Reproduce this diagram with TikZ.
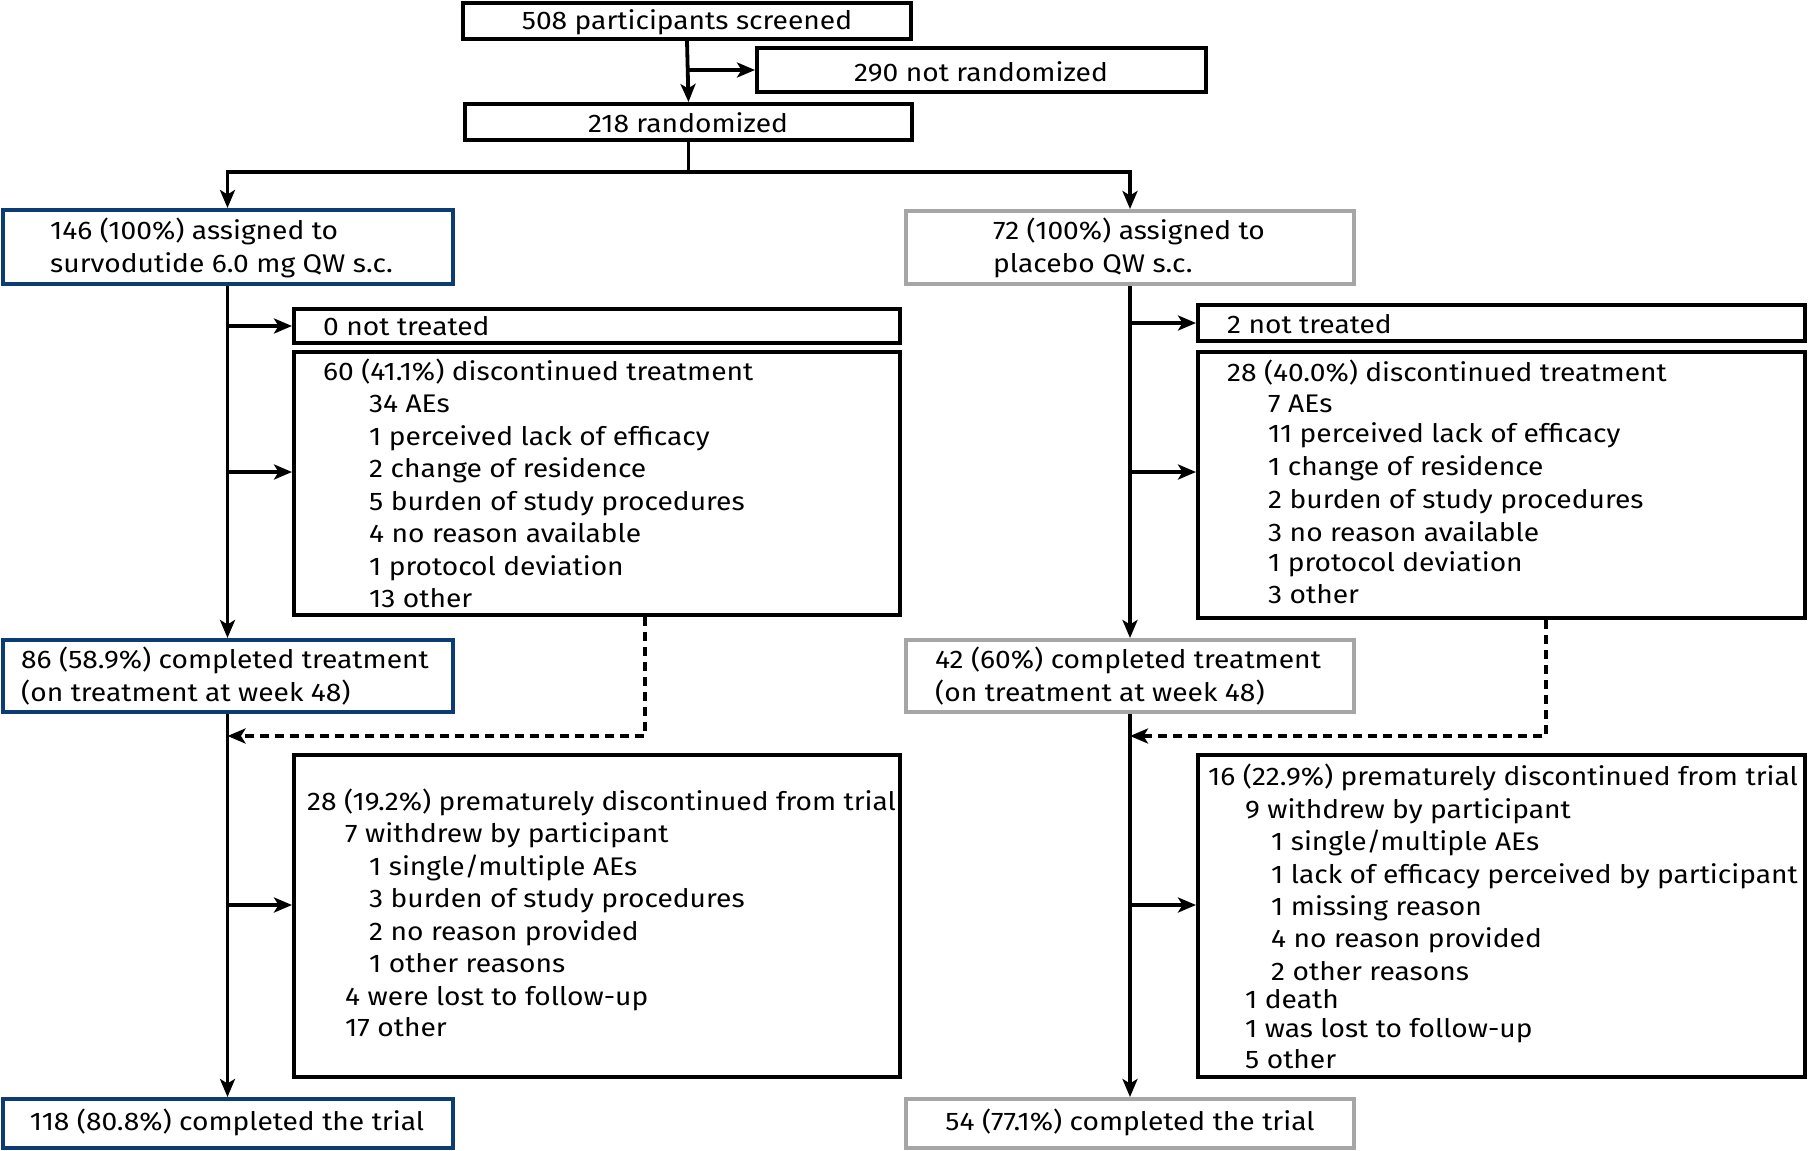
\documentclass[tikz,border=0pt]{standalone}
\usepackage{fontspec}
\setmainfont[FakeStretch=1.105]{Fira Sans}
\usetikzlibrary{arrows.meta}
\definecolor{navy}{HTML}{0B3C73}
\definecolor{greyb}{HTML}{A6A6A6}
\tikzset{
  box/.style={draw=black, line width=4pt, rectangle, inner sep=0pt},
  bluebox/.style={box, draw=navy},
  greybox/.style={box, draw=greyb},
  txt/.style={inner sep=0pt, font=\fontsize{25.5}{32.4}\selectfont, anchor=base west},
  ctxt/.style={txt, anchor=base},
  conn/.style={line width=3.8pt, -{Stealth[length=18pt,width=15pt,inset=4.5pt]}},
  plain/.style={line width=3.8pt},
  dconn/.style={conn, dash pattern=on 9pt off 6pt},
}
\begin{document}
\begin{tikzpicture}[x=1pt,y=-1pt]
\useasboundingbox (0,0) rectangle (1808,1151);
% boxes
\node[box, minimum width=448pt, minimum height=36pt] (scr) at (687,21) {};
\node[box, minimum width=449pt, minimum height=44pt] (notr) at (981.5,70) {};
\node[box, minimum width=447pt, minimum height=36pt] (rand) at (688.5,122) {};
\node[bluebox, minimum width=450pt, minimum height=74pt] (LA) at (227.5,247) {};
\node[greybox, minimum width=448pt, minimum height=73pt] (RA) at (1130,247.5) {};
\node[box, minimum width=606pt, minimum height=34pt] (LNT) at (597,326) {};
\node[box, minimum width=606pt, minimum height=263pt] (LDC) at (597,483.5) {};
\node[box, minimum width=607pt, minimum height=36pt] (RNT) at (1501.5,323) {};
\node[box, minimum width=607pt, minimum height=266pt] (RDC) at (1501.5,485) {};
\node[bluebox, minimum width=450pt, minimum height=72pt] (LCT) at (227.5,676) {};
\node[greybox, minimum width=448pt, minimum height=72pt] (RCT) at (1130,676) {};
\node[box, minimum width=606pt, minimum height=322pt] (LPD) at (597,916) {};
\node[box, minimum width=607pt, minimum height=322pt] (RPD) at (1501.5,916) {};
\node[bluebox, minimum width=450pt, minimum height=49pt] (LCP) at (227.5,1123.5) {};
\node[greybox, minimum width=448pt, minimum height=49pt] (RCP) at (1130,1123.5) {};

% texts
\node[ctxt] (tscr) at (687,29) {508 participants screened};
\node[ctxt] (tnotr) at (981,81) {290 not randomized};
\node[ctxt] (trand) at (688,132) {218 randomized};
\node[txt] (tla1) at (50,239) {146 (100\%) assigned to};
\node[txt] (tla2) at (50,272) {survodutide 6.0 mg QW s.c.};
\node[txt] (tra1) at (993,239) {72 (100\%) assigned to};
\node[txt] (tra2) at (993,272) {placebo QW s.c.};
\node[txt] (tlnt) at (323,335) {0 not treated};
\node[txt] (tldc0) at (323,380) {60 (41.1\%) discontinued treatment};
\node[txt] (tldc1) at (369,412) {34 AEs};
\node[txt] (tldc2) at (369,445) {1 perceived lack of efficacy};
\node[txt] (tldc3) at (369,477) {2 change of residence};
\node[txt] (tldc4) at (369,510) {5 burden of study procedures};
\node[txt] (tldc5) at (369,542) {4 no reason available};
\node[txt] (tldc6) at (369,575) {1 protocol deviation};
\node[txt] (tldc7) at (369,607) {13 other};
\node[txt] (trnt) at (1227,333) {2 not treated};
\node[txt] (trdc0) at (1227,381) {28 (40.0\%) discontinued treatment};
\node[txt] (trdc1) at (1268,412) {7 AEs};
\node[txt] (trdc2) at (1268,442) {11 perceived lack of efficacy};
\node[txt] (trdc3) at (1268,475) {1 change of residence};
\node[txt] (trdc4) at (1268,508) {2 burden of study procedures};
\node[txt] (trdc5) at (1268,541) {3 no reason available};
\node[txt] (trdc6) at (1268,571) {1 protocol deviation};
\node[txt] (trdc7) at (1268,603) {3 other};
\node[txt] (tlct1) at (21,668) {86 (58.9\%) completed treatment};
\node[txt] (tlct2) at (21,701) {(on treatment at week 48)};
\node[txt] (trct1) at (935,668) {42 (60\%) completed treatment};
\node[txt] (trct2) at (935,701) {(on treatment at week 48)};
\node[txt] (tlpd0) at (307,810) {28 (19.2\%) prematurely discontinued from trial};
\node[txt] (tlpd1) at (345,842) {7 withdrew by participant};
\node[txt] (tlpd2) at (369,875) {1 single/multiple AEs};
\node[txt] (tlpd3) at (369,907) {3 burden of study procedures};
\node[txt] (tlpd4) at (369,940) {2 no reason provided};
\node[txt] (tlpd5) at (369,972) {1 other reasons};
\node[txt] (tlpd6) at (345,1005) {4 were lost to follow-up};
\node[txt] (tlpd7) at (345,1036) {17 other};
\node[txt] (trpd0) at (1208,785) {16 (22.9\%) prematurely discontinued from trial};
\node[txt] (trpd1) at (1245,818) {9 withdrew by participant};
\node[txt] (trpd2) at (1271,850) {1 single/multiple AEs};
\node[txt] (trpd3) at (1271,883) {1 lack of efficacy perceived by participant};
\node[txt] (trpd4) at (1271,915) {1 missing reason};
\node[txt] (trpd5) at (1271,947) {4 no reason provided};
\node[txt] (trpd6) at (1271,980) {2 other reasons};
\node[txt] (trpd7) at (1245,1008) {1 death};
\node[txt] (trpd8) at (1245,1037) {1 was lost to follow-up};
\node[txt] (trpd9) at (1245,1068) {5 other};
\node[ctxt] (tlcp) at (227,1130) {118 (80.8\%) completed the trial};
\node[ctxt] (trcp) at (1130,1130) {54 (77.1\%) completed the trial};

% connectors top
\draw[conn] (scr.south) -- (rand.north);
\draw[conn] (scr.south |- notr.west) -- (notr.west);
\coordinate (split) at (688.5,172);
\draw[plain] (rand.south) -- (split);
\draw[conn] (split) -| (LA.north);
\draw[conn] (split) -| (RA.north);

% left column
\draw[conn] (LA.south) -- (LCT.north);
\draw[conn] (LA.south |- LNT.west) -- (LNT.west);
\coordinate (lb1) at (227.5,472);
\draw[conn] (lb1) -- (lb1 -| LDC.west);
\draw[conn] (LCT.south) -- (LCP.north);
\coordinate (lb2) at (227.5,905);
\draw[conn] (lb2) -- (lb2 -| LPD.west);
\coordinate (ldash) at (645,736);
\draw[dconn] (LDC.south -| ldash) -- (ldash) -- (ldash -| LCT.south);

% right column
\draw[conn] (RA.south) -- (RCT.north);
\draw[conn] (RA.south |- RNT.west) -- (RNT.west);
\coordinate (rb1) at (1130,472);
\draw[conn] (rb1) -- (rb1 -| RDC.west);
\draw[conn] (RCT.south) -- (RCP.north);
\coordinate (rb2) at (1130,905);
\draw[conn] (rb2) -- (rb2 -| RPD.west);
\coordinate (rdash) at (1546,736);
\draw[dconn] (RDC.south -| rdash) -- (rdash) -- (rdash -| RCT.south);
\end{tikzpicture}
\end{document}
